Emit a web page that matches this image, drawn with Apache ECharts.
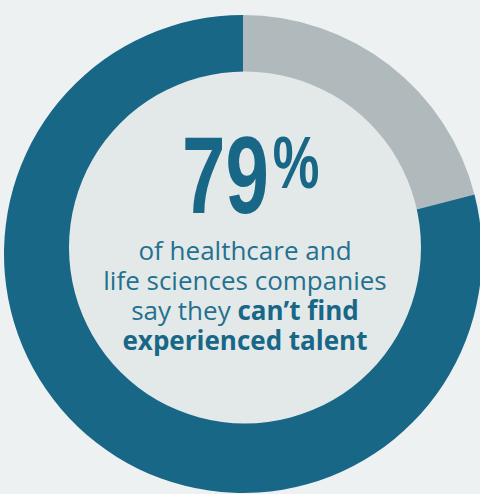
<!DOCTYPE html>
<html>
<head>
<meta charset="utf-8">
<style>html,body{margin:0;padding:0;background:#edf1f2;}#c{width:480px;height:494px;}</style>
<script src="https://cdn.jsdelivr.net/npm/echarts@6/dist/echarts.min.js"></script>
</head>
<body>
<div id="c"></div>
<script>
var categories = ["Other companies", "Can't find experienced talent"];
var values = [21, 79];
var sliceColors = ["#b0babc", "#196787"];
var headline = values[1] + "";
var bodyLines = [
  ["of healthcare and", ""],
  ["life sciences companies", ""],
  ["say they ", "can’t find"],
  ["", "experienced talent"]
];

var chart = echarts.init(document.getElementById('c'), null, {renderer: 'svg'});
var bodyText = bodyLines.map(function (l) {
  var s = '';
  if (l[0]) s += '{r|' + l[0] + '}';
  if (l[1]) s += '{b|' + l[1] + '}';
  return s;
}).join('\n');

chart.setOption({
  backgroundColor: '#edf1f2',
  animation: false,
  series: [
    {
      type: 'pie',
      center: [243, 254],
      radius: [160, 239],
      startAngle: 90,
      clockwise: true,
      silent: true,
      label: {show: false},
      labelLine: {show: false},
      itemStyle: {borderWidth: 0},
      emphasis: {disabled: true},
      data: categories.map(function (c, i) {
        return {name: c, value: values[i], itemStyle: {color: sliceColors[i]}};
      })
    },
    {
      type: 'pie',
      center: [245, 247.5],
      radius: [0, 176],
      silent: true,
      label: {show: false},
      labelLine: {show: false},
      emphasis: {disabled: true},
      data: [{name: 'disk', value: 1, itemStyle: {color: '#e3e9e9'}}]
    }
  ],
  graphic: [
    {
      type: 'text',
      z: 100,
      x: 225.5, y: 175,
      scaleX: 0.71,
      style: {
        text: headline,
        fill: '#196787',
        font: 'bold 110px "Liberation Sans", Arial, sans-serif',
        align: 'center',
        verticalAlign: 'middle'
      }
    },
    {
      type: 'text',
      z: 100,
      x: 296, y: 162,
      scaleX: 0.7,
      style: {
        text: '%',
        fill: '#196787',
        font: 'bold 75px "Liberation Sans", Arial, sans-serif',
        align: 'center',
        verticalAlign: 'middle'
      }
    },
    {
      type: 'text',
      z: 100,
      x: 245, y: 295,
      style: {
        text: bodyText,
        align: 'center',
        verticalAlign: 'middle',
        rich: {
          r: {fontFamily: '"Open Sans", sans-serif', fontSize: 26, fontWeight: 'normal', fill: '#24718f', lineHeight: 30},
          b: {fontFamily: '"Open Sans", sans-serif', fontSize: 26, fontWeight: 'bold', fill: '#196787', lineHeight: 30}
        }
      }
    }
  ]
});
</script>
</body>
</html>
